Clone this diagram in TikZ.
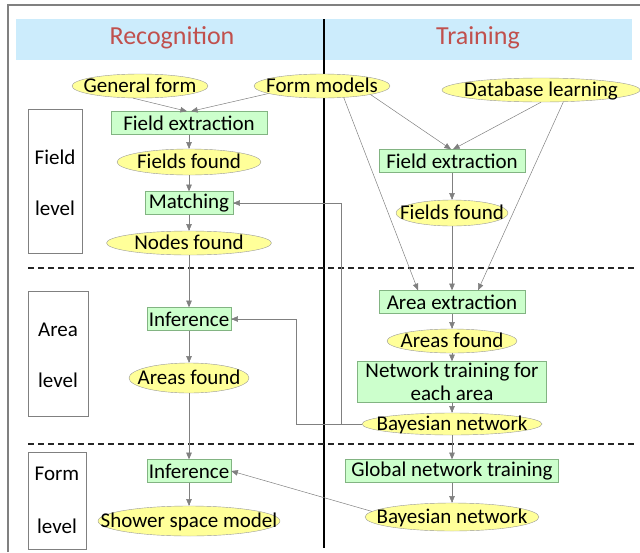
\documentclass[tikz,border=0pt]{standalone}
\usepackage{fontspec}
\setmainfont{Carlito}
\usepackage{tikz}
\usetikzlibrary{arrows, shapes.geometric, positioning}

\definecolor{bandblue}{RGB}{204,236,252}
\definecolor{headred}{RGB}{192,80,77}
\definecolor{fndyellow}{RGB}{255,255,153}
\definecolor{stpgreen}{RGB}{204,255,204}
\definecolor{stpedge}{RGB}{130,180,130}
\definecolor{lnkgray}{RGB}{128,128,128}

\tikzset{
  txt/.style={font=\fontsize{21}{23}\selectfont},
  fnd/.style={txt, ellipse, draw=gray!80, fill=fndyellow, inner xsep=-80pt, inner ysep=-10pt,
    text height=15pt, text depth=3pt, minimum height=24pt},
  stp/.style={txt, rectangle, draw=stpedge, fill=stpgreen, inner sep=0pt, minimum height=23pt},
  lvl/.style={draw=gray, line width=0.6pt},
  lnk/.style={draw=lnkgray, line width=0.5pt, -triangle 45},
}

\begin{document}
\begin{tikzpicture}[x=1pt,y=-1pt]
					\useasboundingbox (0,0) rectangle (640,552);
					% frame and header
					\draw[gray, line width=1.2pt] (8,552) -- (8,5) -- (640,5);
					\fill[bandblue] (16,19) rectangle (632,60);
					\node[txt, font=\fontsize{26}{28}\selectfont, text=headred] (hrec) at (172,38) {Recognition};
					\node[txt, font=\fontsize{26}{28}\selectfont, text=headred] (htrn) at (478,38) {Training};
					\draw[line width=2.5pt] (324,19) -- (324,548);
				
					% level separators
					\draw[black!85, line width=1.3pt, dash pattern=on 6pt off 4pt] (28,268) -- (634,268);
					\draw[black!85, line width=1.3pt, dash pattern=on 6pt off 4pt] (28,444) -- (634,444);
				
					% level boxes
					\draw[lvl] (28,109) rectangle (82,253);
					\node[txt] (lfa) at (55,157) {Field};
					\node[txt] (lfb) at (55,208) {level};
					\draw[lvl] (28,291) rectangle (88,416);
					\node[txt] (laa) at (58,330) {Area};
					\node[txt] (lab) at (58,380) {level};
					\draw[lvl] (28,452) rectangle (86,549);
					\node[txt] (lma) at (57,474) {Form};
					\node[txt] (lmb) at (57,526) {level};
				
					% inputs
					\node[fnd, minimum width=136pt] (gf) at (140,86) {General form};
					\node[fnd, minimum width=136pt] (fm) at (322,86) {Form models};
					\node[fnd, minimum width=198pt] (dl) at (541,90) {Database learning};
				
					% recognition
					\node[stp, minimum width=156pt] (fel) at (189,123) {Field extraction};
					\node[fnd, minimum width=144pt, minimum height=26pt] (ffl) at (189,162) {Fields found};
					\node[stp, minimum width=88pt] (mt) at (189,203) {Matching};
					\node[fnd, minimum width=165pt] (nf) at (189,243) {Nodes found};
					\node[stp, minimum width=84pt] (infa) at (189,319) {Inference};
					\node[fnd, minimum width=120pt, minimum height=30pt] (afl) at (189,378) {Areas found};
					\node[stp, minimum width=84pt] (inff) at (189,471) {Inference};
					\node[fnd, minimum width=182pt, minimum height=30pt] (ssm) at (189,521) {Shower space model};
				
					% training
					\node[stp, minimum width=146pt] (fer) at (452,161) {Field extraction};
					\node[fnd, minimum width=112pt, minimum height=26pt] (ffr) at (452,213) {Fields found};
					\node[stp, minimum width=146pt] (ae) at (452,302) {Area extraction};
					\node[fnd, minimum width=130pt] (afr) at (452,341) {Areas found};
					\node[stp, minimum width=189pt, minimum height=41pt, align=center] (nt) at (452,382) {Network training for\\each area};
					\node[fnd, minimum width=180pt, minimum height=22pt] (ba) at (452,424) {Bayesian network};
					\node[stp, minimum width=213pt] (gn) at (452,471) {Global network training};
					\node[fnd, minimum width=174pt, minimum height=28pt] (bf) at (452,517) {Bayesian network};
				
					% connectors
					\draw[lnk] (gf.-120) -- ([xshift=-2pt]fel.north);
					\draw[lnk] (fm.188) -- ([xshift=2pt]fel.north);
					\draw[lnk] (fm.-10) -- ([xshift=-1pt]fer.north);
					\draw[lnk] (dl.south) -- ([xshift=1pt]fer.north);
					\draw[lnk] (fm.-28) -- ([xshift=-34pt]ae.north);
					\draw[lnk] (dl.-28) -- ([xshift=26pt]ae.north);
					\foreach \a/\b in {fel/ffl, ffl/mt, mt/nf, nf/infa, infa/afl, afl/inff, inff/ssm,
					    fer/ffr, ffr/ae, ae/afr, afr/nt, nt/ba, ba/gn, gn/bf}
					  \draw[lnk] (\a) -- (\b);
					\draw[lnk] (ba.west) -- ++(-21,0) |- (mt.east);
					\draw[lnk] (ba.west) -- ++(-66,0) |- (infa.east);
					\draw[lnk] (bf.176) -- (inff.east);
				\end{tikzpicture}
\end{document}
